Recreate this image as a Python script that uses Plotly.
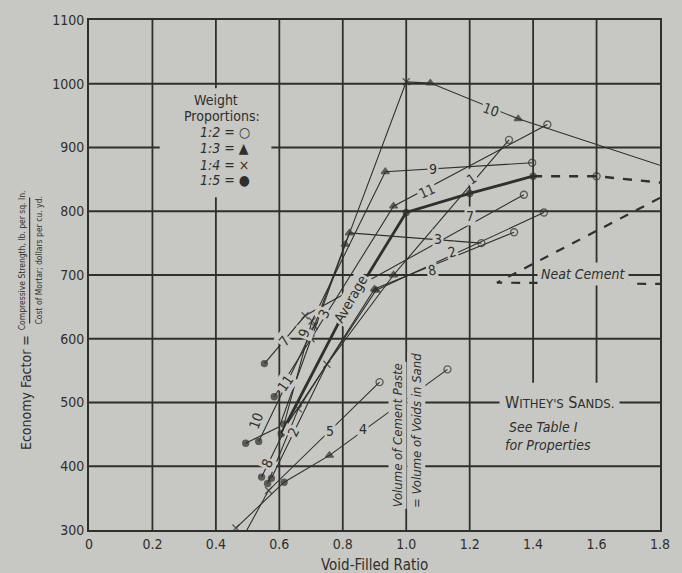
import plotly.graph_objects as go

BG = "#c7c8c3"
INK = "#2f2f2c"
FONT = "DejaVu Sans Condensed, DejaVu Sans, sans-serif"

# ---------------- data ----------------
x_ticks = [0, 0.2, 0.4, 0.6, 0.8, 1.0, 1.2, 1.4, 1.6, 1.8]
x_tick_labels = ["0", "0.2", "0.4", "0.6", "0.8", "1.0", "1.2", "1.4", "1.6", "1.8"]
y_ticks = [300, 400, 500, 600, 700, 800, 900, 1000, 1100]
y_tick_labels = ["300", "400", "500", "600", "700", "800", "900", "1000", "1100"]

# mix codes: "1:2" open circle, "1:3" triangle, "1:4" cross, "1:5" dot, "" plain vertex
sand1_x = [0.575, 0.75, 0.96, 1.324]
sand1_y = [381, 560, 700, 912]
sand1_mix = ["1:5", "1:4", "1:3", "1:2"]

sand2_x = [0.563, 0.66, 0.90, 1.34]
sand2_y = [373, 490, 678, 767]
sand2_mix = ["1:5", "1:4", "1:3", "1:2"]

sand3_x = [0.535, 0.71, 0.821, 1.237]
sand3_y = [439, 620, 766, 750]
sand3_mix = ["1:5", "1:4", "1:3", "1:2"]

sand4_x = [0.463, 0.615, 0.758, 1.13]
sand4_y = [303, 375, 417, 552]
sand4_mix = ["1:4", "1:5", "1:3", "1:2"]

sand5_x = [0.457, 0.566, 0.916]
sand5_y = [263, 362, 532]
sand5_mix = ["1:2", "1:4", "1:2"]

sand7_x = [0.553, 0.681, 1.371]
sand7_y = [561, 636, 826]
sand7_mix = ["1:5", "1:4", "1:2"]

sand8_x = [0.544, 0.63, 0.905, 1.434]
sand8_y = [383, 470, 676, 798]
sand8_mix = ["1:5", "", "1:3", "1:2"]

sand9_x = [0.615, 0.703, 0.934, 1.397]
sand9_y = [466, 628, 862, 876]
sand9_mix = ["1:5", "1:4", "1:3", "1:2"]

sand10_x = [0.494, 0.60, 0.808, 1.0, 1.076, 1.353, 1.8]
sand10_y = [436, 462, 748, 1003, 1001, 945, 872]
sand10_mix = ["1:5", "", "1:3", "1:4", "1:3", "1:3", ""]

sand11_x = [0.584, 0.70, 0.96, 1.445]
sand11_y = [509, 600, 808, 936]
sand11_mix = ["1:5", "1:4", "1:3", "1:2"]

avg_x = [0.606, 0.79, 1.0, 1.2, 1.4]
avg_y = [451, 628, 798, 828, 855]
avg_mix = ["1:5", "1:5", "1:5", "1:5", "1:5"]

avg_ext_x = [1.4, 1.6, 1.8]
avg_ext_y = [855, 855, 845]
avg_ext_mix = ["", "1:2", ""]

neat_x = [1.8, 1.286, 1.8]
neat_y = [821, 688, 686]

SYMBOL = {"1:2": "circle-open", "1:3": "triangle-up", "1:4": "x-thin", "1:5": "circle", "": "circle"}
SIZE = {"1:2": 7, "1:3": 7, "1:4": 7, "1:5": 6, "": 0}

fig = go.Figure()


def add_line(xs, ys, mix, width=1.1, dash="solid"):
    fig.add_trace(go.Scatter(
        x=xs, y=ys, mode="lines+markers",
        line=dict(color=INK, width=width, dash=dash),
        marker=dict(symbol=[SYMBOL[m] for m in mix], size=[SIZE[m] for m in mix],
                    color=INK, line=dict(color=INK, width=1.4)),
        cliponaxis=False, hoverinfo="skip"))


for xs, ys, mx in [(sand1_x, sand1_y, sand1_mix), (sand2_x, sand2_y, sand2_mix),
                   (sand3_x, sand3_y, sand3_mix), (sand4_x, sand4_y, sand4_mix),
                   (sand5_x, sand5_y, sand5_mix), (sand7_x, sand7_y, sand7_mix),
                   (sand8_x, sand8_y, sand8_mix), (sand9_x, sand9_y, sand9_mix),
                   (sand10_x, sand10_y, sand10_mix), (sand11_x, sand11_y, sand11_mix)]:
    add_line(xs, ys, mx)

add_line(avg_x, avg_y, avg_mix, width=2.8)
add_line(avg_ext_x, avg_ext_y, avg_ext_mix, width=2.4, dash="dash")
fig.add_trace(go.Scatter(x=neat_x, y=neat_y, mode="lines",
                         line=dict(color=INK, width=2.2, dash="dash"), hoverinfo="skip"))

# ---------------- grid (with breaks like the original) ----------------
shapes = []
v_segments = {0.4: [(300, 822), (993, 1100)], 1.4: [(531, 1100)], 1.6: [(531, 1100)]}
for v in x_ticks[1:-1]:
    for y0, y1 in v_segments.get(v, [(300, 1100)]):
        shapes.append(dict(type="line", xref="x", yref="y", x0=v, x1=v, y0=y0, y1=y1,
                           line=dict(color=INK, width=1.8), layer="below"))
h_segments = {900: [(0, 0.223), (0.575, 1.8)]}
for h in y_ticks[1:-1]:
    for x0, x1 in h_segments.get(h, [(0, 1.8)]):
        shapes.append(dict(type="line", xref="x", yref="y", x0=x0, x1=x1, y0=h, y1=h,
                           line=dict(color=INK, width=1.8), layer="below"))
# fraction bar of the y-axis title
shapes.append(dict(type="line", xref="paper", yref="paper", x0=-0.104, x1=-0.104,
                   y0=0.405, y1=0.652, line=dict(color=INK, width=1.2)))

ann = []


def label(text, x, y, angle=0, size=14, bg=True, italic=False, xanchor="center"):
    t = f"<i>{text}</i>" if italic else text
    ann.append(dict(text=t, x=x, y=y, xref="x", yref="y", showarrow=False,
                    textangle=angle, xanchor=xanchor, yanchor="middle",
                    font=dict(family=FONT, size=size, color=INK),
                    bgcolor=BG if bg else None, borderpad=1))


# line number labels
for t, x, y, a in [("10", 1.268, 959, 20), ("9", 1.085, 867, 0), ("11", 1.066, 831, -25),
                   ("1", 1.206, 850, -35), ("7", 1.2, 792, 0), ("3", 1.1, 756, 0),
                   ("2", 1.144, 736, -15), ("8", 1.082, 708, -10),
                   ("7", 0.615, 597, -50), ("9", 0.678, 609, -70), ("3", 0.74, 639, -65),
                   ("11", 0.619, 531, -55), ("10", 0.528, 472, -70), ("2", 0.645, 453, -65),
                   ("8", 0.562, 405, -65), ("5", 0.759, 456, 0), ("4", 0.864, 459, 0)]:
    label(t, x, y, a)
label("Average", 0.825, 662, -60, size=14)

# legend block
label("Weight", 0.40, 974, bg=False, size=14)
label("Proportions:", 0.42, 950, bg=False, size=14)
for t, yy in [("1:2 = ○", 925), ("1:3 = ▲", 899), ("1:4 = ×", 873), ("1:5 = ●", 849)]:
    label(t, 0.345, yy, bg=False, size=14, italic=True, xanchor="left")

# notes
label("W<span style='font-size:13px'>ITHEY'S</span> S<span style='font-size:13px'>ANDS.</span>",
      1.483, 500, size=16)
ann[-1]["borderpad"] = 5
label("See Table I", 1.433, 462, bg=False, size=14, italic=True)
label("for Properties", 1.448, 433, bg=False, size=14, italic=True)
label("Neat Cement", 1.558, 701, size=14, italic=True)
ann[-1]["borderpad"] = 3
label("Volume of Cement Paste", 0.973, 448, angle=-90, size=13, italic=True)
label("= Volume of Voids in Sand", 1.032, 456, angle=-90, size=13, italic=True)

# axis titles
ann.append(dict(text="Void-Filled Ratio", x=0.5, y=-0.068, xref="paper", yref="paper",
                xanchor="center", yanchor="middle",
                showarrow=False, font=dict(family=FONT, size=15, color=INK)))
ann.append(dict(text="Economy Factor =", x=-0.109, y=0.27, xref="paper", yref="paper",
                xanchor="center", yanchor="middle",
                showarrow=False, textangle=-90, font=dict(family=FONT, size=14, color=INK)))
ann.append(dict(text="Compressive Strength, lb. per sq. In.", x=-0.118, y=0.528, xref="paper",
                yref="paper", showarrow=False, textangle=-90, xanchor="center", yanchor="middle",
                font=dict(family=FONT, size=8.5, color=INK)))
ann.append(dict(text="Cost of Mortar; dollars per cu. yd.", x=-0.088, y=0.528, xref="paper",
                yref="paper", showarrow=False, textangle=-90, xanchor="center", yanchor="middle",
                font=dict(family=FONT, size=8.5, color=INK)))

fig.update_layout(
    width=682, height=573,
    margin=dict(l=89, r=14, t=18, b=43),
    paper_bgcolor=BG, plot_bgcolor=BG,
    showlegend=False,
    shapes=shapes, annotations=ann,
    font=dict(family=FONT, color=INK),
    xaxis=dict(range=[0, 1.8], showgrid=False, zeroline=False, showline=True, mirror=True,
               linecolor=INK, linewidth=2, tickvals=x_ticks, ticktext=x_tick_labels,
               ticks="", tickfont=dict(family=FONT, size=14, color=INK)),
    yaxis=dict(range=[300, 1100], showgrid=False, zeroline=False, showline=True, mirror=True,
               linecolor=INK, linewidth=2, tickvals=y_ticks, ticktext=y_tick_labels,
               ticks="", tickfont=dict(family=FONT, size=14, color=INK)),
)

fig.write_html(
    "out.html",
    config={"displayModeBar": False},
    post_script="document.body.style.margin='0';document.body.style.background='%s';" % BG,
)
